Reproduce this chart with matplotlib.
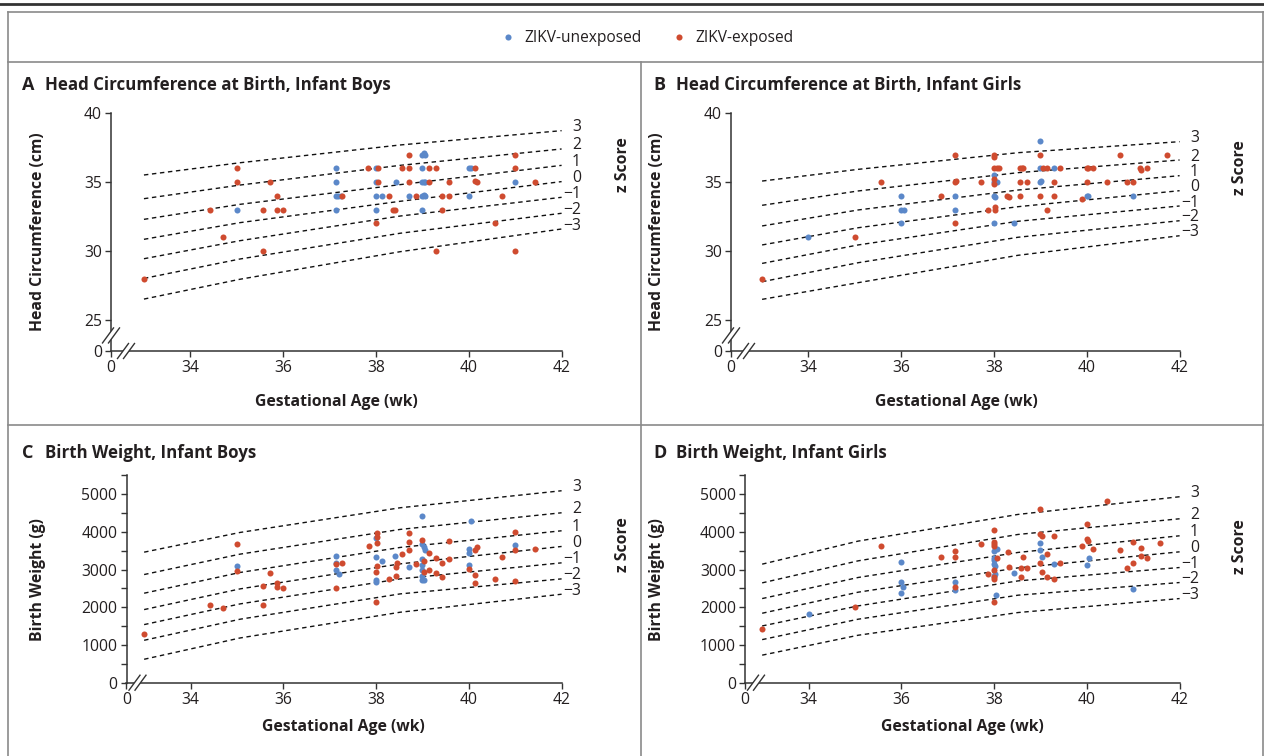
import matplotlib
matplotlib.use("Agg")
import matplotlib.pyplot as plt
from matplotlib.lines import Line2D
from matplotlib.patches import Polygon

plt.rcParams["font.family"] = ["Open Sans", "DejaVu Sans"]

W, H = 1264, 756
BLUE = "#5b88c9"
RED = "#cf4b2f"
INK = "#231f20"
FRAME = "#8a8a8a"

# ---- data -------------------------------------------------------------
# gestational age (wk) / head circumference (cm), infant boys
a_unexp_wk = [35, 37.14, 37.14, 37.14, 37.19, 37.24, 37.14, 38, 38, 38, 38, 38.14, 38.43,
              38.71, 39, 39.03, 39.05, 39, 39, 39.03, 39.06, 39, 39.03, 39.06, 39, 40, 40.04,
              40, 41]
a_unexp_hc = [33, 36, 35, 34, 34, 34, 33, 36, 35, 34, 33, 34, 35,
              34, 37, 37.1, 36.95, 36, 35, 35, 35, 34, 34.1, 34, 33, 36, 36,
              34, 35]
a_exp_wk = [33, 34.43, 34.71, 35, 35, 35.57, 35.57, 35.71, 35.86, 35.86, 36, 37.26, 37.83,
            38.04, 38, 38.05, 38.27, 38.36, 38.41, 38.57, 38.71, 38.71, 38.71, 38.86, 39.14,
            39.14, 39.29, 39.29, 39.43, 39.43, 39.57, 39.57, 40.14, 40.14, 40.18, 40.57, 40.71,
            41, 41, 41, 41.43]
a_exp_hc = [28, 33, 31, 36, 35, 33, 30, 35, 34, 33, 33, 34, 36,
            36, 32, 35, 34, 33, 33, 36, 37, 36, 35, 34, 36,
            35, 36, 30, 34, 33, 35, 34, 36, 35.1, 35, 32, 34,
            37, 36, 30, 35]

# head circumference, infant girls
b_unexp_wk = [34, 36, 36, 36.05, 36, 37.15, 37.15, 38, 38, 38.06, 38, 38.03, 38, 38.43,
              39, 39, 39.02, 39, 39.29, 40, 40.03, 41]
b_unexp_hc = [31, 34, 33, 33, 32, 34, 33, 35.5, 35, 35, 34, 33.9, 32, 32,
              38, 36, 35.1, 35, 36, 34, 34, 34]
b_exp_wk = [33, 35, 35.57, 36.86, 37.15, 37.15, 37.17, 37.15, 37.72, 37.86, 38, 38, 38,
            38.06, 38.1, 38, 38, 38.02, 38.02, 38.29, 38.32, 38.57, 38.6, 38.63, 38.57, 38.57,
            38.72, 39, 39, 39.06, 39.14, 39.14, 39.29, 39.29, 39.43, 39.9, 40, 40.03, 40,
            40.14, 40.43, 40.72, 40.86, 41, 41.14, 41.17, 41.29, 41.72]
b_exp_hc = [28, 31, 35, 34, 37, 35, 35.1, 32, 35, 33, 37, 36.85, 36,
            36, 36, 35.2, 34.9, 33.2, 33, 34, 33.9, 36, 36, 36, 35, 34,
            35, 37, 34, 36, 36, 33, 35, 34, 36, 33.8, 36, 36, 35,
            36, 35, 37, 35, 35, 36, 35.9, 36, 37]

# birth weight (g), infant boys
c_unexp_wk = [35, 37.14, 37.14, 37.14, 37.2, 38, 38, 38, 38, 38.13, 38.41, 38.71, 39, 39,
              39.03, 39.05, 39, 39, 39, 39, 39.03, 38.99, 40.04, 40, 40.01, 40, 41]
c_unexp_bw = [3100, 3370, 3160, 2980, 2880, 3840, 3320, 2720, 2665, 3230, 3370, 3070, 4420, 3670,
              3600, 3510, 3290, 3115, 2980, 2840, 2735, 2715, 4290, 3550, 3425, 3115, 3645]
c_exp_wk = [33, 34.43, 34.71, 35, 35, 35.57, 35.57, 35.71, 35.86, 35.86, 36, 37.14, 37.14,
            37.27, 37.84, 38.03, 38.03, 38.01, 38, 38, 38.03, 38.27, 38.43, 38.43, 38.45,
            38.57, 38.71, 38.71, 38.71, 38.86, 39, 39.03, 39.03, 39.14, 39.14, 39.29, 39.29,
            39.43, 39.43, 39.57, 39.57, 40, 40.14, 40.18, 40.14, 40.14, 40.57, 40.71, 41, 41,
            41, 41.43]
c_exp_bw = [1300, 2070, 1990, 3665, 2955, 2575, 2050, 2905, 2645, 2540, 2520, 3135, 2505,
            3175, 3630, 3960, 3870, 3690, 2930, 2140, 3105, 2745, 2815, 3055, 3175,
            3400, 3955, 3735, 3530, 3135, 3770, 3230, 2940, 3425, 2990, 3300, 2895,
            3160, 2805, 3760, 3275, 3025, 3530, 3600, 2850, 2645, 2760, 3335, 4000, 3515,
            2700, 3540]

# birth weight, infant girls
d_unexp_wk = [34, 36, 36, 36.04, 36, 37.15, 37.15, 38, 38.07, 38, 38, 38, 38.02, 38.02, 38,
              38.04, 38.43, 39, 39, 39.03, 39.29, 40, 40.05, 41]
d_unexp_bw = [1815, 3210, 2675, 2540, 2390, 2665, 2450, 3480, 3540, 3300, 3250, 3135, 3100,
              2875, 2825, 2335, 2910, 3700, 3520, 3320, 3135, 3125, 3300, 2480]
d_exp_wk = [33, 35, 35.57, 36.86, 37.15, 37.15, 37.15, 37.71, 37.86, 38, 38, 38, 38, 38.07,
            38, 38, 38, 38, 38.29, 38.32, 38.57, 38.57, 38.63, 38.72, 39, 39, 39.03, 39,
            39.03, 39.14, 39.14, 39.29, 39.29, 39.43, 39.89, 40, 40, 40.03, 40.14, 40.43,
            40.71, 40.86, 41, 41, 41.16, 41.16, 41.29, 41.57]
d_exp_bw = [1425, 2000, 3620, 3345, 3495, 3320, 2540, 3680, 2870, 4060, 3735, 3675, 3630, 3300,
            2980, 2790, 2745, 2135, 3470, 3060, 2790, 3045, 3345, 3045, 4595, 3940, 3885, 3160,
            2940, 3400, 2790, 3885, 2745, 3185, 3620, 4195, 3805, 3750, 3540, 4815,
            3520, 3045, 3735, 3170, 3565, 3355, 3310, 3710]

# z-score reference curves, read at these weeks
curve_wk = [33, 35.07, 38.52, 42]
z_labels = ["3", "2", "1", "0", "\u22121", "\u22122", "\u22123"]
a_curves = [[35.52, 36.41, 37.70, 38.74], [33.80, 34.79, 36.22, 37.41],
            [32.30, 33.39, 34.82, 36.22], [30.85, 32.06, 33.61, 35.04],
            [29.44, 30.75, 32.54, 33.90], [28.01, 29.42, 31.29, 32.74],
            [26.51, 27.95, 29.95, 31.60]]
b_curves = [[35.08, 35.93, 37.14, 37.94], [33.32, 34.36, 35.69, 36.61],
            [31.82, 32.98, 34.43, 35.47], [30.44, 31.69, 33.22, 34.38],
            [29.10, 30.44, 32.16, 33.27], [27.77, 29.15, 31.00, 32.20],
            [26.49, 27.70, 29.69, 31.11]]
c_curves = [[3460, 3983, 4637, 5088], [2867, 3408, 4063, 4504],
            [2372, 2922, 3585, 4027], [1938, 2487, 3150, 3611],
            [1540, 2089, 2752, 3177], [1124, 1683, 2354, 2752],
            [621, 1186, 1868, 2345]]
d_curves = [[3142, 3753, 4461, 4929], [2646, 3230, 3930, 4345],
            [2230, 2789, 3453, 3894], [1841, 2399, 3044, 3469],
            [1504, 2036, 2699, 3053], [1142, 1683, 2320, 2655],
            [730, 1258, 1860, 2230]]

x_ticks = [34, 36, 38, 40, 42]
hc_ticks = [25, 30, 35, 40]
bw_ticks = [0, 1000, 2000, 3000, 4000, 5000]

fig = plt.figure(figsize=(W / 100, H / 100), dpi=100)


def fx(px):
    return px / W


def fy(py):
    return 1 - py / H


def fline(xs, ys, **kw):
    fig.add_artist(Line2D([fx(v) for v in xs], [fy(v) for v in ys], **kw))


# frame
fline([0, W], [4, 4], color="#333333", lw=2)
fline([8, W], [12, 12], color=FRAME, lw=1.2)
fline([8, 8], [12, H], color=FRAME, lw=1.2)
fline([W - 1, W - 1], [12, H], color=FRAME, lw=1.2)
fline([8, W], [62, 62], color=FRAME, lw=1.2)
fline([8, W], [425, 425], color=FRAME, lw=1.2)
fline([641, 641], [62, H], color=FRAME, lw=1.2)

# legend
handles = [Line2D([], [], ls="", marker="o", ms=4.4, color=BLUE, mec="none"),
           Line2D([], [], ls="", marker="o", ms=4.4, color=RED, mec="none")]
fig.legend(handles, ["ZIKV-unexposed", "ZIKV-exposed"], loc="center",
           bbox_to_anchor=(fx(643), fy(38)), ncol=2, frameon=False, fontsize=11.2,
           handletextpad=0.05, columnspacing=1.4, labelcolor=INK)

FS = 11.3


def make_panel(box, xorigin, letter, title, title_xy, ylabel, ylab_xy, xlab_xy, zs_xy,
               unexp, exp, curves, weight):
    left, top, right, bottom = box
    ax = fig.add_axes([fx(left), fy(bottom), (right - left) / W, (bottom - top) / H])
    ax.set_facecolor("none")
    for s in ["top", "right"]:
        ax.spines[s].set_visible(False)
    for s in ["left", "bottom"]:
        ax.spines[s].set_color("#333333")
        ax.spines[s].set_linewidth(1.1)

    ax.set_xlim(xorigin, 42)
    ax.set_xticks([xorigin] + x_ticks)
    ax.set_xticklabels(["0"] + [str(t) for t in x_ticks])
    if weight:
        ax.set_ylim(0, 5500)
        ax.set_yticks(bw_ticks)
        ax.set_yticks([500, 1500, 2500, 3500, 4500, 5500], minor=True)
    else:
        yorigin = 22.74
        ax.set_ylim(yorigin, 40)
        ax.set_yticks([yorigin] + hc_ticks)
        ax.set_yticklabels(["0"] + [str(t) for t in hc_ticks])
    ax.tick_params(which="major", direction="out", length=4.5, width=1, color="#333333",
                   labelsize=FS, labelcolor=INK, pad=2)
    ax.tick_params(which="minor", direction="out", length=4, width=1, color="#333333")

    for z, vals in enumerate(curves):
        ax.plot(curve_wk, vals, ls=(0, (3.2, 2.6)), color="#111111", lw=1, zorder=2)
        ax.annotate(z_labels[z], (42, vals[-1]), xytext=(14, 2.5), textcoords="offset points",
                    ha="right", va="center", fontsize=FS, color=INK, annotation_clip=False)

    ax.scatter(unexp[0], unexp[1], s=19, color=BLUE, linewidths=0, zorder=3, clip_on=False)
    ax.scatter(exp[0], exp[1], s=19, color=RED, linewidths=0, zorder=3, clip_on=False)

    # axis breaks (double slash)
    trans = ax.transData
    ox, oy = trans.transform((xorigin, ax.get_ylim()[0]))
    bx = ox + 15 if not weight else ox + 11
    marks = [(bx, H - oy)]
    if not weight:
        ty = trans.transform((xorigin, 25))[1]
        marks.append((ox, H - (oy + ty) / 2))
    for (mx, my) in marks:
        dx, dy = 5.5, 7.5
        gap = 3
        poly = Polygon([(fx(mx - dx - gap), fy(my + dy)), (fx(mx + dx - gap), fy(my - dy)),
                        (fx(mx + dx + gap), fy(my - dy)), (fx(mx - dx + gap), fy(my + dy))],
                       closed=True, transform=fig.transFigure, facecolor="white",
                       edgecolor="none", zorder=5)
        fig.add_artist(poly)
        for sgn in (-1, 1):
            fline([mx - dx + sgn * gap, mx + dx + sgn * gap], [my + dy, my - dy],
                  color="#333333", lw=1, zorder=6)

    fig.text(fx(title_xy[0]), fy(title_xy[1]), letter, fontsize=13, color=INK,
             fontweight="bold", va="center", ha="left")
    fig.text(fx(title_xy[0] + 23), fy(title_xy[1]), title, fontsize=12.2, color=INK,
             fontweight="bold", va="center", ha="left")
    fig.text(fx(ylab_xy[0]), fy(ylab_xy[1]), ylabel, rotation=90, fontsize=FS,
             fontweight="bold", color=INK, ha="center", va="center")
    fig.text(fx(xlab_xy[0]), fy(xlab_xy[1]), "Gestational Age (wk)", fontsize=FS,
             fontweight="bold", color=INK, ha="center", va="center")
    fig.text(fx(zs_xy[0]), fy(zs_xy[1]), "z Score", rotation=90, fontsize=FS,
             fontweight="bold", color=INK, ha="center", va="center")
    return ax


make_panel((111, 113.3, 561.6, 351), 32.29, "A", "Head Circumference at Birth, Infant Boys",
           (22, 85), "Head Circumference (cm)", (38, 232), (336, 402), (623, 165),
           (a_unexp_wk, a_unexp_hc), (a_exp_wk, a_exp_hc), a_curves, False)
make_panel((731, 113.3, 1179.6, 351), 32.33, "B", "Head Circumference at Birth, Infant Girls",
           (641 + 12, 85), "Head Circumference (cm)", (657, 232), (956, 402), (1240, 168),
           (b_unexp_wk, b_unexp_hc), (b_exp_wk, b_exp_hc), b_curves, False)
make_panel((126.5, 475.2, 561.6, 682.7), 32.62, "C", "Birth Weight, Infant Boys",
           (22, 453), "Birth Weight (g)", (38, 580), (343, 727), (623, 545),
           (c_unexp_wk, c_unexp_bw), (c_exp_wk, c_exp_bw), c_curves, True)
make_panel((745, 475.2, 1179.6, 682.7), 32.63, "D", "Birth Weight, Infant Girls",
           (641 + 12, 453), "Birth Weight (g)", (657, 580), (962, 727), (1240, 547),
           (d_unexp_wk, d_unexp_bw), (d_exp_wk, d_exp_bw), d_curves, True)

fig.savefig("out.png", dpi=100)
